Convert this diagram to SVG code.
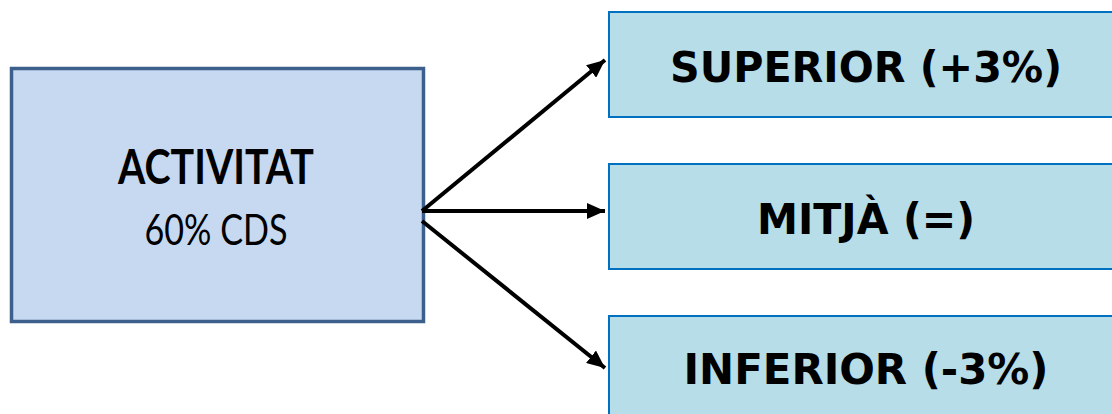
<svg xmlns="http://www.w3.org/2000/svg" width="1112" height="414" viewBox="0 0 1112 414">
  <style>
    .main { fill: #c6d9f1; stroke: #3d5f8c; stroke-width: 3.5; }
    .opt { fill: #b7dde8; stroke: #0070c0; stroke-width: 2; }
    .t-main { font-family: Lato, "Open Sans", "Liberation Sans", sans-serif; fill: #000; text-anchor: middle; }
    .t-opt { font-family: "DejaVu Sans", Verdana, sans-serif; font-weight: bold; font-size: 43px; fill: #000; text-anchor: middle; }
    .conn { stroke: #000; stroke-width: 4; fill: none; marker-end: url(#head); }
  </style>
  <defs>
    <marker id="head" markerUnits="userSpaceOnUse" markerWidth="20" markerHeight="16" refX="18" refY="8" orient="auto">
      <path d="M0,0 L18,8 L0,16 Z" fill="#000"/>
    </marker>
  </defs>
  <rect width="1112" height="414" fill="#fff"/>

  <g id="activitat">
    <rect class="main" x="11.5" y="68.5" width="412" height="253"/>
    <text class="t-main" x="216" y="184" font-size="47" font-weight="bold" textLength="196" lengthAdjust="spacingAndGlyphs">ACTIVITAT</text>
    <text class="t-main" x="216" y="245" font-size="42" textLength="143" lengthAdjust="spacingAndGlyphs">60% CDS</text>
  </g>

  <g id="superior">
    <rect class="opt" x="609" y="12" width="510" height="105"/>
    <text class="t-opt" x="866" y="82" textLength="392" lengthAdjust="spacingAndGlyphs">SUPERIOR (+3%)</text>
  </g>

  <g id="mitja">
    <rect class="opt" x="609" y="164" width="510" height="105"/>
    <text class="t-opt" x="866" y="234" textLength="218" lengthAdjust="spacingAndGlyphs">MITJÀ (=)</text>
  </g>

  <g id="inferior">
    <rect class="opt" x="609" y="316" width="510" height="110"/>
    <text class="t-opt" x="866" y="384" textLength="365" lengthAdjust="spacingAndGlyphs">INFERIOR (-3%)</text>
  </g>

  <g id="connectors">
    <line class="conn" x1="422" y1="211" x2="605" y2="60"/>
    <line class="conn" x1="422" y1="211" x2="605" y2="211"/>
    <line class="conn" x1="422" y1="221" x2="605" y2="368"/>
  </g>
</svg>
